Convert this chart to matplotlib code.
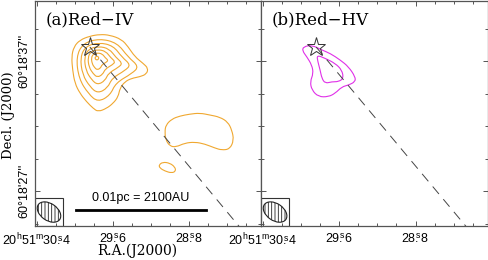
import numpy as np
import matplotlib
matplotlib.use("Agg")
import matplotlib.pyplot as plt
from matplotlib.path import Path
from matplotlib.patches import PathPatch, Ellipse, Rectangle

plt.rcParams["font.family"] = ["Liberation Sans", "DejaVu Sans"]
plt.rcParams["mathtext.fontset"] = "custom"
plt.rcParams["mathtext.rm"] = "Liberation Sans"
plt.rcParams["mathtext.default"] = "regular"
plt.rcParams["hatch.linewidth"] = 0.6

# RA = 20h51m (seconds), Dec = 60d18' (arcsec)
dec0_deg = 60.31
star = (29.842, 38.08)
outflow_end = (28.20, 23.66)

# panel (a) Red-IV: nested contours around the peak, outermost first
red_iv_contours = [
    [(29.947, 38.62), (29.842, 38.92), (29.737, 39.05), (29.632, 39.00), (29.508, 38.67),
     (29.439, 38.10), (29.368, 37.33), (29.281, 36.82), (29.228, 36.44), (29.245, 36.00),
     (29.316, 35.79), (29.403, 35.67), (29.474, 35.41), (29.526, 34.90), (29.544, 34.25),
     (29.597, 33.75), (29.666, 33.36), (29.755, 33.10), (29.807, 33.36), (29.877, 33.87),
     (29.947, 34.52), (30.000, 35.29), (30.024, 36.31), (30.035, 37.33), (30.011, 38.10)],
    [(29.915, 38.37), (29.743, 38.73), (29.555, 38.41), (29.440, 37.31), (29.325, 36.58),
     (29.397, 36.05), (29.570, 35.32), (29.628, 34.37), (29.757, 33.84), (29.857, 34.47),
     (29.958, 35.64), (29.987, 37.31)],
    [(29.886, 38.14), (29.748, 38.43), (29.596, 38.18), (29.504, 37.30), (29.412, 36.71),
     (29.470, 36.28), (29.608, 35.69), (29.655, 34.93), (29.759, 34.51), (29.840, 35.01),
     (29.921, 35.95), (29.944, 37.30)],
    [(29.858, 37.92), (29.752, 38.14), (29.638, 37.95), (29.568, 37.28), (29.498, 36.83),
     (29.542, 36.51), (29.647, 36.07), (29.682, 35.49), (29.761, 35.17), (29.823, 35.55),
     (29.884, 36.26), (29.902, 37.28)],
    [(29.832, 37.73), (29.757, 37.89), (29.674, 37.75), (29.624, 37.27), (29.574, 36.95),
     (29.605, 36.71), (29.681, 36.39), (29.706, 35.98), (29.763, 35.74), (29.807, 36.02),
     (29.852, 36.53), (29.864, 37.27)],
    [(29.807, 37.54), (29.761, 37.63), (29.711, 37.55), (29.680, 37.25), (29.649, 37.06),
     (29.669, 36.91), (29.715, 36.72), (29.730, 36.46), (29.765, 36.32), (29.792, 36.49),
     (29.819, 36.80), (29.827, 37.25)],
    [(29.768, 37.42), (29.742, 37.23), (29.768, 37.04), (29.794, 37.23)],
    # knot to the south-west
    [(29.042, 32.08), (28.979, 32.54), (28.895, 32.77), (28.789, 32.92), (28.684, 33.00),
     (28.579, 32.85), (28.474, 32.69), (28.389, 32.31), (28.347, 31.69), (28.326, 30.92),
     (28.368, 30.23), (28.453, 30.15), (28.526, 30.31), (28.632, 30.62), (28.737, 30.77),
     (28.842, 30.69), (28.937, 30.38), (29.000, 30.46), (29.042, 30.92), (29.053, 31.54)],
    [(29.116, 29.00), (29.074, 29.23), (29.000, 29.15), (28.947, 28.85), (28.937, 28.54),
     (28.979, 28.38), (29.053, 28.54), (29.105, 28.77)],
]

# panel (b) Red-HV
red_hv_contours = [
    [(29.976, 38.10), (29.887, 38.23), (29.782, 37.85), (29.695, 37.59), (29.589, 37.08),
     (29.502, 36.56), (29.432, 35.79), (29.432, 35.41), (29.502, 35.15), (29.572, 35.02),
     (29.642, 34.52), (29.713, 34.25), (29.818, 34.25), (29.887, 34.77), (29.905, 35.41),
     (29.871, 36.05), (29.887, 36.69), (29.940, 37.33), (29.986, 37.79)],
    [(29.835, 37.46), (29.747, 37.21), (29.642, 36.82), (29.572, 36.31), (29.555, 35.67),
     (29.607, 35.41), (29.677, 35.41), (29.747, 35.28), (29.782, 35.67), (29.800, 36.31),
     (29.824, 36.95)],
]

# beam (arcsec, deg) and scale bar
beam_major, beam_minor, beam_pa = 2.0, 1.3, 55
bar_start_ra, bar_dec, bar_len_arcsec = 29.99, 25.54, 10.2
bar_text = "0.01pc = 2100AU"

ra_major = [30.4, 29.6, 28.8]
ra_minor = np.arange(28.2, 30.41, 0.2)
dec_major = [27, 37]
dec_minor = np.arange(24.5, 41.6, 2.5)
xlim = (30.42, 28.04)
ylim = (24.31, 41.62)


def ra_fmt(v, pos):
    whole, frac = f"{v:.1f}".split(".")
    if abs(v - 30.4) < 1e-6:
        return r"$20^{h}51^{m}30\overset{s}{.}4$"
    return r"$%s\overset{s}{.}%s$" % (whole, frac)


def dec_fmt(v, pos):
    return "60\u00b018'%d''" % round(v)


def smooth_closed(pts):
    p = np.array(pts)
    mids = (p + np.roll(p, -1, axis=0)) / 2
    verts = [mids[-1]]
    codes = [Path.MOVETO]
    for i in range(len(p)):
        verts += [p[i], mids[i]]
        codes += [Path.CURVE3, Path.CURVE3]
    return Path(verts, codes)


fig = plt.figure(figsize=(4.89, 2.60), dpi=100)
ax1 = fig.add_axes([35 / 489, 34 / 260, 226 / 489, 225 / 260])
ax2 = fig.add_axes([261 / 489, 34 / 260, 227 / 489, 225 / 260])

panels = [(ax1, red_iv_contours, "#f0a830", "(a)Red\u2212IV"),
          (ax2, red_hv_contours, "#e030e8", "(b)Red\u2212HV")]

for ax, conts, col, title in panels:
    ax.set_xlim(*xlim)
    ax.set_ylim(*ylim)
    for c in conts:
        ax.add_patch(PathPatch(smooth_closed(c), fill=False, edgecolor=col, lw=0.8))
    ax.plot([star[0], outflow_end[0]], [star[1], outflow_end[1]], color="#444444",
            lw=0.7, dashes=(10, 7))
    ax.plot(star[0], star[1], marker="*", ms=14, mfc="none", mec="#333333", mew=0.7)

    ax.text(0.045, 0.955, title, transform=ax.transAxes, ha="left", va="top",
            fontsize=12, family="DejaVu Serif")

    # beam in the corner
    span = ylim[1] - ylim[0]
    box = 0.124
    ax.add_patch(Rectangle((0, 0), box, box, transform=ax.transAxes, fill=False,
                           edgecolor="#333333", lw=0.8))
    ax.add_patch(Ellipse((box / 2, box / 2), beam_major / span, beam_minor / span,
                         angle=90 + beam_pa, transform=ax.transAxes, fill=False,
                         hatch="|||||", edgecolor="#222222", lw=0.8))

    ax.set_xticks(ra_major)
    ax.set_xticks(ra_minor, minor=True)
    ax.set_yticks(dec_major)
    ax.set_yticks(dec_minor, minor=True)
    ax.xaxis.set_major_formatter(plt.FuncFormatter(ra_fmt))
    ax.yaxis.set_major_formatter(plt.FuncFormatter(dec_fmt))
    ax.tick_params(which="both", direction="in", top=True, right=True,
                   color="#555555", labelsize=9, width=0.7)
    ax.tick_params(which="major", length=3.5)
    ax.tick_params(which="minor", length=2.5)
    ax.tick_params(axis="x", pad=4)
    ax.tick_params(axis="y", pad=3)
    for sp in ax.spines.values():
        sp.set_color("#555555")
        sp.set_linewidth(0.9)

for lab in ax1.get_yticklabels():
    lab.set_rotation(90)
    lab.set_va("center")
ax2.tick_params(axis="y", labelleft=False)

# scale bar
bar_end_ra = bar_start_ra - bar_len_arcsec / (15 * np.cos(np.radians(dec0_deg)))
ax1.plot([bar_start_ra, bar_end_ra], [bar_dec, bar_dec], color="black", lw=2)
ax1.text((bar_start_ra + bar_end_ra) / 2, bar_dec + 0.5, bar_text, ha="center",
         va="bottom", fontsize=9)

fig.text(137 / 489, 1 - 251 / 260, "R.A.(J2000)", ha="center", va="center",
         fontsize=10, family="DejaVu Serif")
fig.text(9 / 489, 1 - 115 / 260, "Decl. (J2000)", ha="center", va="center",
         rotation=90, fontsize=9.5, family="DejaVu Serif")

fig.savefig("out.png", dpi=100)
